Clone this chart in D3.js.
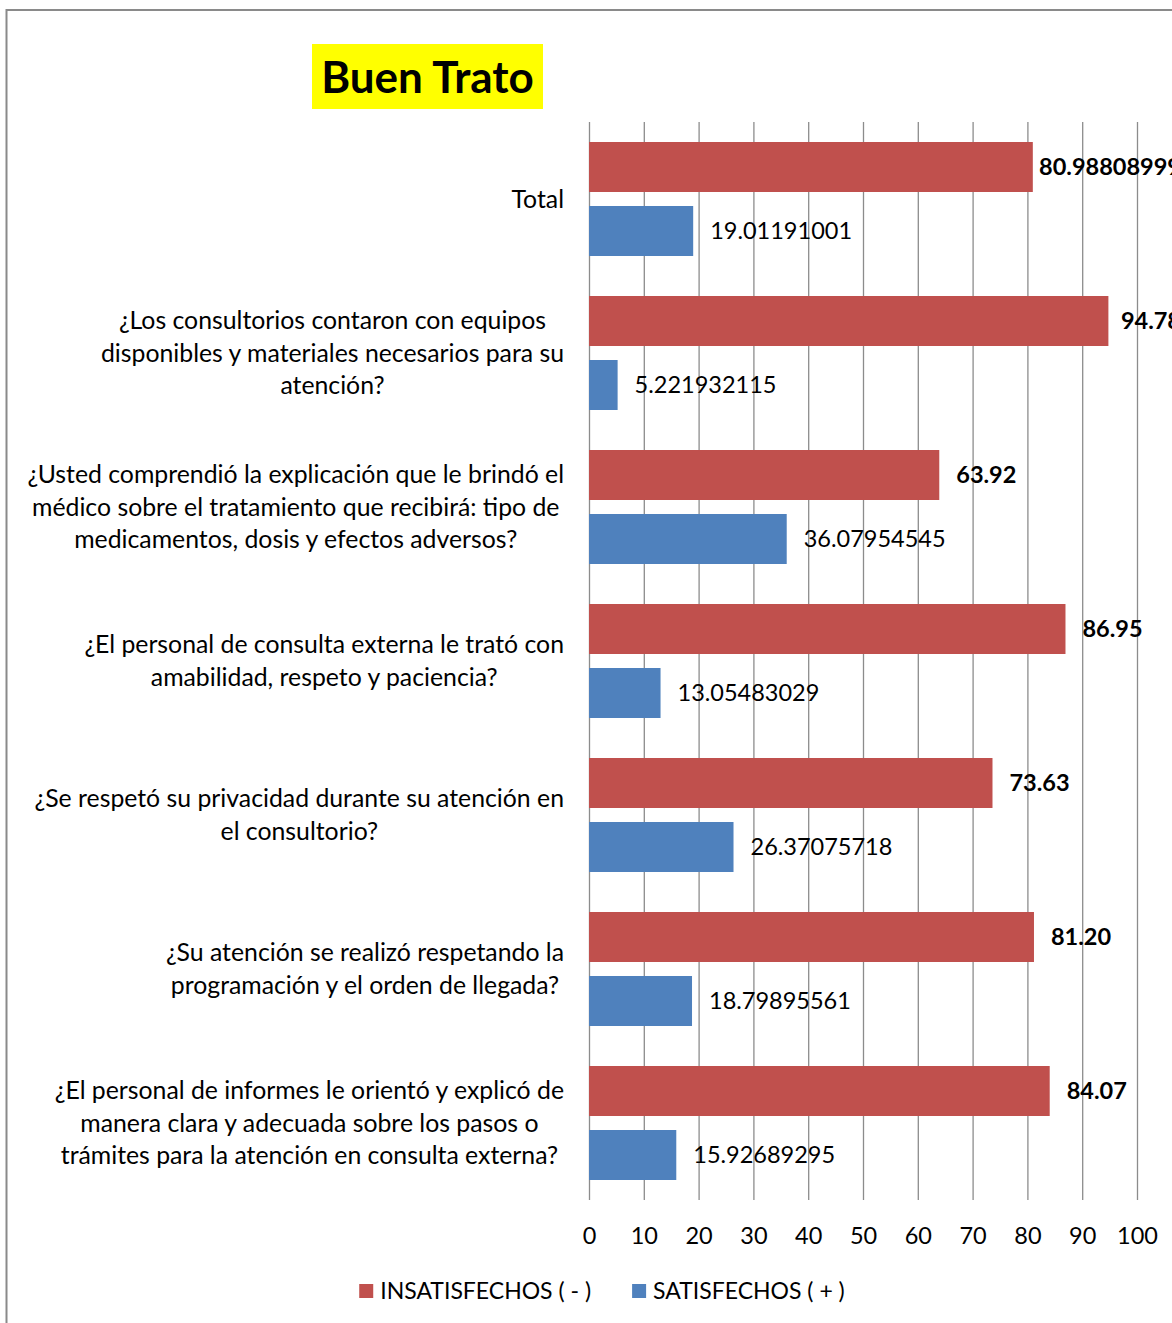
<!DOCTYPE html>
<html>
<head>
<meta charset="utf-8">
<script src="https://cdn.jsdelivr.net/npm/d3@7"></script>
<style>
  html, body { margin: 0; padding: 0; background: #fff; }
  svg { display: block; font-family: Lato, "Open Sans", sans-serif; }
</style>
</head>
<body>
<svg id="chart" width="1172" height="1323"></svg>
<script>
// Survey questions, top to bottom (line breaks as shown on the axis)
const categories = [
  "Total",
  "¿Los consultorios contaron con equipos\ndisponibles y materiales necesarios para su\natención?",
  "¿Usted comprendió la explicación que le brindó el\nmédico sobre el tratamiento que recibirá: tipo de\nmedicamentos, dosis y efectos adversos?",
  "¿El personal de consulta externa le trató con\namabilidad, respeto y paciencia?",
  "¿Se respetó su privacidad durante su atención en\nel consultorio?",
  "¿Su atención se realizó respetando la\nprogramación y el orden de llegada?",
  "¿El personal de informes le orientó y explicó de\nmanera clara y adecuada sobre los pasos o\ntrámites para la atención en consulta externa?"
];

// Percentages as printed next to each bar
const insatisfechos = ["80.98808999", "94.78", "63.92", "86.95", "73.63", "81.20", "84.07"];
const satisfechos = ["19.01191001", "5.221932115", "36.07954545", "13.05483029", "26.37075718", "18.79895561", "15.92689295"];

const seriesNames = ["INSATISFECHOS ( - )", "SATISFECHOS ( + )"];
const seriesColors = ["#C0504D", "#4F81BD"];
const xTicks = [0, 10, 20, 30, 40, 50, 60, 70, 80, 90, 100];
const title = "Buen Trato";

const rows = categories.map((c, i) => ({
  cat: c,
  bars: [
    { key: "ins", label: insatisfechos[i], value: +insatisfechos[i] },
    { key: "sat", label: satisfechos[i], value: +satisfechos[i] }
  ]
}));

const svg = d3.select("#chart");
const NUM_FONT = 23.5;
const CAT_FONT = 24.8;
const LEG_FONT = 23;

// Chart frame
svg.append("rect")
  .attr("x", 6.5).attr("y", 10)
  .attr("width", 1200).attr("height", 1400)
  .attr("fill", "none").attr("stroke", "#8a8a8a").attr("stroke-width", 2);

// Title on a yellow highlight
svg.append("rect")
  .attr("x", 312).attr("y", 44).attr("width", 231).attr("height", 65)
  .attr("fill", "#FFFF00");
svg.append("text")
  .attr("x", 427.5).attr("y", 93)
  .attr("text-anchor", "middle")
  .attr("font-weight", "bold")
  .attr("font-size", 44)
  .attr("fill", "#000")
  .text(title);

// Scales
const x = d3.scaleLinear().domain([0, 100]).range([589, 1137]);
const y = d3.scaleBand().domain(categories).range([122, 1200]).paddingInner(0).paddingOuter(0);
const inner = d3.scaleBand().domain(["ins", "sat"]).range([0, y.bandwidth()])
  .paddingInner(0.21875).paddingOuter(0.3125);
const color = d3.scaleOrdinal().domain(["ins", "sat"]).range(seriesColors);

// Vertical gridlines
svg.append("g")
  .selectAll("line")
  .data(xTicks)
  .join("line")
  .attr("x1", d => x(d) + 0.5).attr("x2", d => x(d) + 0.5)
  .attr("y1", 122).attr("y2", 1200)
  .attr("stroke", "#8c8c8c").attr("stroke-width", 1.3);

// Bottom axis labels
const xAxis = d3.axisBottom(x).tickValues(xTicks).tickSize(0).tickPadding(0).tickFormat(d3.format("d"));
const gx = svg.append("g").attr("transform", "translate(0,1200)").call(xAxis);
gx.select(".domain").remove();
gx.selectAll("text")
  .attr("y", 44).attr("dy", 0)
  .attr("font-size", NUM_FONT).attr("font-family", "Lato")
  .attr("fill", "#000");

// Bars
const groups = svg.append("g").selectAll("g")
  .data(rows)
  .join("g")
  .attr("transform", d => `translate(0,${y(d.cat)})`);

groups.selectAll("rect")
  .data(d => d.bars)
  .join("rect")
  .attr("x", x(0))
  .attr("y", d => inner(d.key))
  .attr("width", d => x(d.value) - x(0))
  .attr("height", inner.bandwidth())
  .attr("fill", d => color(d.key));

// Value labels: bold for the dissatisfied series, kept inside the chart area
const labelLimit = 1181;
groups.selectAll("text")
  .data(d => d.bars)
  .join("text")
  .attr("y", d => inner(d.key) + inner.bandwidth() / 2)
  .attr("dy", "0.35em")
  .attr("font-size", NUM_FONT)
  .attr("font-weight", d => d.key === "ins" ? "bold" : "normal")
  .attr("fill", "#000")
  .text(d => d.label)
  .attr("x", function (d) {
    const w = this.getComputedTextLength();
    return Math.min(x(d.value) + 17, labelLimit - w);
  });

// Category labels: block right-aligned to the axis, lines centred within the block
const lineH = 32.5;
const catRight = 564;
svg.append("g").selectAll("g")
  .data(categories)
  .join("g")
  .each(function (c) {
    const lines = c.split("\n");
    const g = d3.select(this);
    const cy = y(c) + y.bandwidth() / 2;
    const texts = g.selectAll("text")
      .data(lines)
      .join("text")
      .attr("font-size", CAT_FONT)
      .attr("fill", "#000")
      .attr("text-anchor", "middle")
      .attr("y", (l, i) => cy + (i - (lines.length - 1) / 2) * lineH)
      .attr("dy", "0.35em")
      .text(l => l);
    let maxW = 0;
    texts.each(function () { maxW = Math.max(maxW, this.getComputedTextLength()); });
    texts.attr("x", catRight - maxW / 2);
  });

// Legend, centred under the plot
const legend = svg.append("g");
const items = legend.selectAll("g")
  .data(seriesNames)
  .join("g");
items.append("rect")
  .attr("width", 14).attr("height", 14)
  .attr("y", -7)
  .attr("fill", (d, i) => seriesColors[i]);
items.append("text")
  .attr("x", 21)
  .attr("dy", "0.35em")
  .attr("font-size", LEG_FONT)
  .attr("fill", "#000")
  .text(d => d);
let cursor = 0;
const widths = [];
items.each(function () {
  const w = 21 + d3.select(this).select("text").node().getComputedTextLength();
  widths.push(w);
});
const gap = 41;
const total = d3.sum(widths) + gap * (widths.length - 1);
const startX = 602 - total / 2;
items.attr("transform", (d, i) => {
  const tx = startX + cursor;
  cursor += widths[i] + gap;
  return `translate(${tx},1291)`;
});
</script>
</body>
</html>
